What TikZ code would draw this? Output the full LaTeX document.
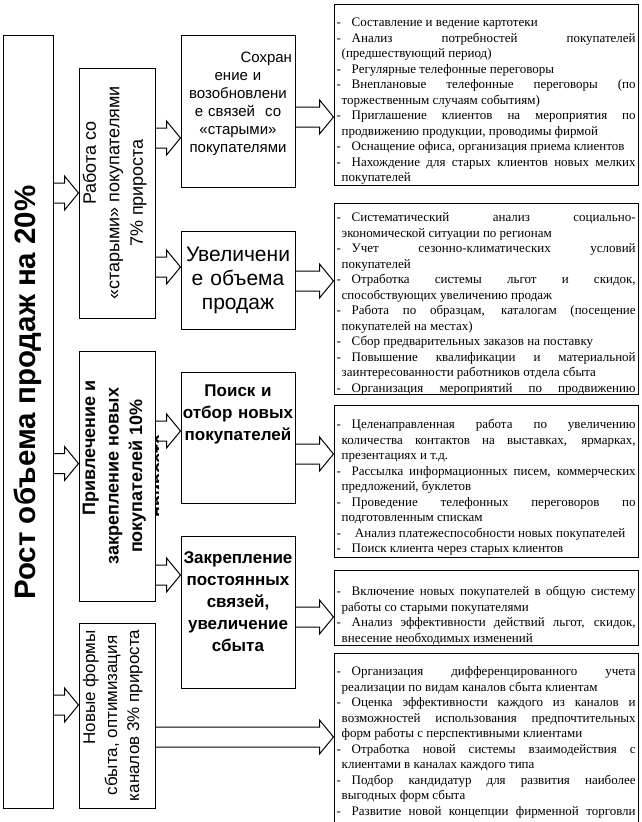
\documentclass[tikz,border=0pt]{standalone}
\usepackage{fontspec}
\setmainfont{Liberation Serif}
\newfontfamily\arialfont{Liberation Sans}
\usetikzlibrary{calc, positioning}
\linepenalty=1000
\tolerance=10000
\hyphenpenalty=10000
\newcommand{\itm}{\par\noindent\hangindent=5pt\hangafter=1\makebox[15pt][l]{-}}

\begin{document}
\begin{tikzpicture}[
    x=1pt, y=-1pt,
    box/.style={draw, line width=1pt, inner sep=0pt},
    vtext/.style={rotate=90, anchor=north, align=center, inner sep=0pt},
    htext/.style={align=center, inner sep=0pt, text width=120pt},
    lst/.style={anchor=north west, text width=299pt, align=justify, inner sep=0pt, font=\fontsize{13}{15.5}\selectfont},
    hollow/.style={line width=1pt, to path={let \p1=(\tikztostart), \p2=(\tikztotarget) in
        (\x1,\y2+10pt) -- (\x2-14pt,\y2+10pt) -- (\x2-14pt,\y2+17pt) -- (\x2,\y2)
        -- (\x2-14pt,\y2-17pt) -- (\x2-14pt,\y2-10pt) -- (\x1,\y2-10pt)}}
]
\clip (0,0) rectangle (642,822);
% Goal
\node[box, minimum width=50, minimum height=773] (goal) at (28,421.5) {};
\node[vtext, anchor=center, font=\arialfont\bfseries\fontsize{29.5}{32}\selectfont] (goaltxt) at ([yshift=29pt]goal.center) {Рост объема продаж на 20\%};
% Directions
\node[box, minimum width=76, minimum height=250] (work) at (117,193) {};
\node[box, minimum width=76, minimum height=250] (attract) at (117,476) {};
\node[box, minimum width=76, minimum height=185] (newf) at (117,715.5) {};
\node[vtext, font=\arialfont\fontsize{18}{23.5}\selectfont] (worktxt) at ([xshift=4pt]work.west) {\hspace*{60pt}Работа со\\«старыми» покупателями\\7\% прироста};
\begin{scope}
    \clip (attract.north west) rectangle ([xshift=3pt]attract.south east);
    \node[vtext, font=\arialfont\bfseries\fontsize{18}{23.5}\selectfont] (attracttxt) at ([xshift=4pt]attract.west) {\hspace*{56pt}Привлечение и\\закрепление новых\\покупателей 10\%\\прироста};
\end{scope}
\node[vtext, font=\arialfont\fontsize{17}{22}\selectfont] (newftxt) at ([xshift=4pt]newf.west) {\hspace*{56pt}Новые формы\\сбыта, оптимизация\\каналов 3\% прироста};
% Tasks
\node[box, minimum width=114, minimum height=152] (keep) at (238,111) {};
\node[box, minimum width=114, minimum height=98] (incr) at (238,280) {};
\node[box, minimum width=114, minimum height=131] (search) at (238,437.5) {};
\node[box, minimum width=114, minimum height=152] (fix) at (238,612) {};
\node[htext, anchor=north, text width=108pt, font=\arialfont\fontsize{15}{18}\selectfont] (keeptxt) at ([yshift=-17pt]keep.north) {\hspace*{\fill}Сохран\\ение и\\возобновлени\\е связей\ \ со\\«старыми»\\покупателями};
\node[htext, font=\arialfont\fontsize{21}{24}\selectfont] (incrtxt) at (incr) {Увеличени\\е объема\\продаж};
\node[htext, anchor=north, font=\arialfont\bfseries\fontsize{17}{22}\selectfont] (searchtxt) at ([yshift=-13pt]search.north) {Поиск и\\отбор новых\\покупателей};
\node[htext, anchor=north, font=\arialfont\bfseries\fontsize{17}{22}\selectfont] (fixtxt) at ([yshift=-16pt]fix.north) {Закрепление\\постоянных\\связей,\\увеличение\\сбыта};
% Measures
\node[box, minimum width=304, minimum height=181] (l1) at (486,94.5) {};
\node[box, minimum width=304, minimum height=191] (l2) at (486,298.5) {};
\node[box, minimum width=304, minimum height=152] (l3) at (486,481) {};
\node[box, minimum width=304, minimum height=75] (l4) at (486,607.5) {};
\node[box, minimum width=304, minimum height=187] (l5) at (486,746.5) {};
\node[lst] (l1txt) at ([shift={(3,7.5)}]l1.north west) {%
\itm Составление и ведение картотеки
\itm Анализ потребностей покупателей\linebreak (предшествующий период)
\itm Регулярные телефонные переговоры
\itm Внеплановые телефонные переговоры (по\linebreak торжественным случаям событиям)
\itm Приглашение клиентов на мероприятия по\linebreak продвижению продукции, проводимы фирмой
\itm Оснащение офиса, организация приема клиентов
\itm Нахождение для старых клиентов новых мелких\linebreak покупателей\par};
\begin{scope}
    \clip (l2.north west) rectangle (l2.south east);
    \node[lst] (l2txt) at ([shift={(3,3.5)}]l2.north west) {%
\itm Систематический анализ социально-\linebreak экономической ситуации по регионам
\itm Учет сезонно-климатических условий\linebreak покупателей
\itm Отработка системы льгот и скидок,\linebreak способствующих увеличению продаж
\itm Работа по образцам, каталогам (посещение\linebreak покупателей на местах)
\itm Сбор предварительных заказов на поставку
\itm Повышение квалификации и материальной\linebreak заинтересованности работников отдела сбыта
\itm Организация мероприятий по продвижению\linebreak\par};
\end{scope}
\node[lst] (l3txt) at ([shift={(3,8.5)}]l3.north west) {%
\itm Целенаправленная работа по увеличению\linebreak количества контактов на выставках, ярмарках,\linebreak презентациях и т.д.
\itm Рассылка информационных писем, коммерческих\linebreak предложений, буклетов
\itm Проведение телефонных переговоров по\linebreak подготовленным спискам
\itm \ Анализ платежеспособности новых покупателей
\itm Поиск клиента через старых клиентов\par};
\node[lst] (l4txt) at ([shift={(3,10.5)}]l4.north west) {%
\itm Включение новых покупателей в общую систему\linebreak работы со старыми покупателями
\itm Анализ эффективности действий льгот, скидок,\linebreak внесение необходимых изменений\par};
\node[lst] (l5txt) at ([shift={(3,7.5)}]l5.north west) {%
\itm Организация дифференцированного учета\linebreak реализации по видам каналов сбыта клиентам
\itm Оценка эффективности каждого из каналов и\linebreak возможностей использования предпочтительных\linebreak форм работы с перспективными клиентами
\itm Отработка новой системы взаимодействия с\linebreak клиентами в каналах каждого типа
\itm Подбор кандидатур для развития наиболее\linebreak выгодных форм сбыта
\itm Развитие новой концепции фирменной торговли\linebreak\par};
% Arrows
\draw[hollow] (goal.east) to (work.west);
\draw[hollow] (goal.east) to ([yshift=12.5pt]attract.west);
\draw[hollow] (goal.east) to ([yshift=10.5pt]newf.west);
\draw[hollow] (work.east) to ([yshift=-27pt]keep.west);
\draw[hollow] (work.east) to ([yshift=13pt]incr.west);
\draw[hollow] (attract.east) to ([yshift=6.5pt]search.west);
\draw[hollow] (attract.east) to ([yshift=37pt]fix.west);
\draw[hollow] (keep.east) to ([yshift=-22.5pt]l1.west);
\draw[hollow] (incr.east) to ([yshift=17.5pt]l2.west);
\draw[hollow] (search.east) to ([yshift=27pt]l3.west);
\draw[hollow] (fix.east) to ([yshift=-9.5pt]l4.west);
\draw[hollow] (newf.east) to ([yshift=9.5pt]l5.west);
\end{tikzpicture}
\end{document}
